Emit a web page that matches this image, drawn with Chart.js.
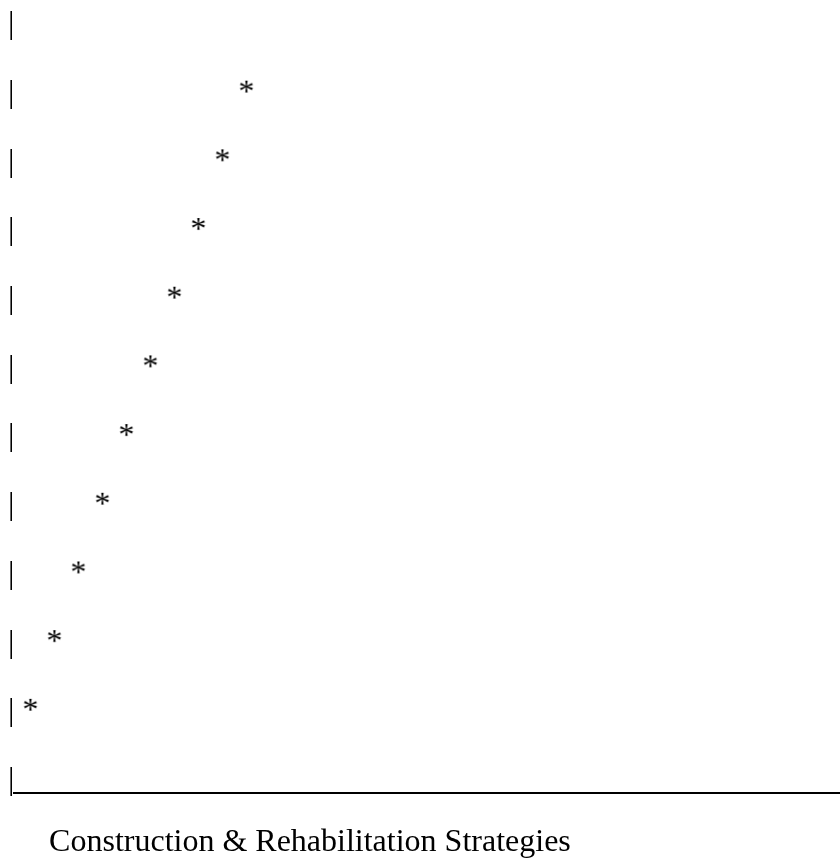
<!DOCTYPE html>
<html>
<head>
<meta charset="utf-8">
<script src="https://cdn.jsdelivr.net/npm/chart.js@4.4.1/dist/chart.umd.min.js"></script>
<style>
  html, body { margin: 0; padding: 0; background: #fff; }
  #wrap { width: 840px; height: 864px; }
</style>
</head>
<body>
<div id="wrap"><canvas id="c" width="840" height="864"></canvas></div>
<script>
// ---- data ----
const stepPositions = [1, 2, 3, 4, 5, 6, 7, 8, 9, 10];   // horizontal position of each '*'
const seriesValues  = [1, 2, 3, 4, 5, 6, 7, 8, 9, 10];   // row (counted from the baseline) of each '*'
const rowValues     = [0, 1, 2, 3, 4, 5, 6, 7, 8, 9, 10, 11];
const yTickLabels   = ['|', '|', '|', '|', '|', '|', '|', '|', '|', '|', '|', '|'];
const axisTitle     = 'Construction & Rehabilitation Strategies';

const FONT_FAMILY = "'Liberation Serif', 'Times New Roman', Times, serif";

function makeStar() {
  const cv = document.createElement('canvas');
  cv.width = 24; cv.height = 40;
  const g = cv.getContext('2d');
  g.fillStyle = '#000';
  g.font = '32px ' + FONT_FAMILY;
  g.textAlign = 'center';
  g.textBaseline = 'middle';
  g.fillText('*', 12, 20);
  return cv;
}

function build() {
  const star = makeStar();
  const points = stepPositions.map((x, i) => ({ x: x, y: seriesValues[i] }));
  new Chart(document.getElementById('c'), {
    type: 'scatter',
    data: {
      datasets: [{
        data: points,
        pointStyle: star,
        pointRadius: 8,
        showLine: false
      }]
    },
    options: {
      responsive: false,
      devicePixelRatio: 1,
      animation: false,
      events: [],
      layout: { autoPadding: false, padding: { left: 8, top: 0, right: 0, bottom: 0 } },
      plugins: { legend: { display: false }, tooltip: { enabled: false }, title: { display: false } },
      scales: {
        x: {
          type: 'linear',
          min: 0.3333,
          max: 34.7333,
          grid: { display: false, drawTicks: false },
          border: { display: true, color: '#000', width: 2 },
          ticks: { display: false },
          title: {
            display: true,
            text: '    \u200A' + axisTitle,
            align: 'start',
            color: '#000',
            font: { family: FONT_FAMILY, size: 32, lineHeight: 1 },
            padding: { top: 34, bottom: 5 }
          }
        },
        y: {
          type: 'linear',
          min: -0.182,
          max: 11.364,
          grid: { display: false, drawTicks: false },
          border: { display: false },
          afterBuildTicks: (axis) => { axis.ticks = rowValues.map(v => ({ value: v })); },
          afterFit: (axis) => { axis.paddingTop = 0; axis.paddingBottom = 0; },
          ticks: {
            padding: 0,
            color: '#000',
            font: { family: FONT_FAMILY, size: 32, lineHeight: 0.1 },
            callback: (value, index) => yTickLabels[index]
          }
        }
      }
    }
  });
}

if (document.fonts && document.fonts.load) {
  document.fonts.load('32px "Liberation Serif"').then(build, build);
} else {
  build();
}
</script>
</body>
</html>
